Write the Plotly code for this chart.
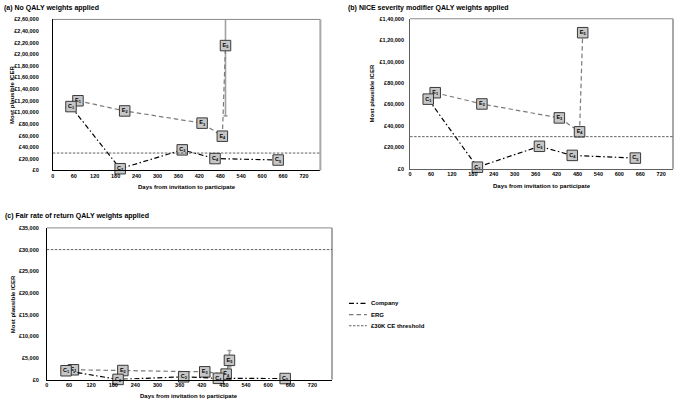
import plotly.graph_objects as go

W, H = 677, 404

# ---------------- data ----------------
company_days = [52, 193, 371, 465, 646]
erg_days = [72, 206, 428, 486, 495]
company_labels = ["C<sub>1</sub>", "C<sub>2</sub>", "C<sub>3</sub>", "C<sub>4</sub>", "C<sub>5</sub>"]
erg_labels = ["E<sub>1</sub>", "E<sub>2</sub>", "E<sub>3</sub>", "E<sub>4</sub>", "E<sub>5</sub>"]

company_a = [110000, 3000, 35500, 20500, 18000]
erg_a = [120000, 102500, 81500, 59000, 215000]
e5_err_hi_a = 85000
e5_err_lo_a = 121000

company_b = [65000, 1500, 21000, 12500, 10000]
erg_b = [71000, 60500, 47500, 34500, 127000]

company_c = [2050, 50, 650, 300, 250]
erg_c = [2270, 2100, 1800, 1270, 4450]
e5_err_hi_c = 2280
e5_err_lo_c = 1500

threshold = 30000

x_ticks = [0, 60, 120, 180, 240, 300, 360, 420, 480, 540, 600, 660, 720]
y_ticks_a = list(range(0, 260001, 20000))
y_labels_a = ["£0", "£20,000", "£40,000", "£60,000", "£80,000", "£1,00,000", "£1,20,000",
              "£1,40,000", "£1,60,000", "£1,80,000", "£2,00,000", "£2,20,000", "£2,40,000", "£2,60,000"]
y_ticks_b = list(range(0, 140001, 20000))
y_labels_b = ["£0", "£20,000", "£40,000", "£60,000", "£80,000", "£1,00,000", "£1,20,000", "£1,40,000"]
y_ticks_c = list(range(0, 35001, 5000))
y_labels_c = ["£0", "£5,000", "£10,000", "£15,000", "£20,000", "£25,000", "£30,000", "£35,000"]

titles = ["(a) No QALY weights applied", "(b) NICE severity modifier QALY weights applied",
          "(c) Fair rate of return QALY weights applied"]
legend_names = ["Company", "ERG", "£30K CE threshold"]

# ---------------- styles ----------------
FONT = "Liberation Sans Narrow, Arial Narrow, Arial, Liberation Sans, sans-serif"
MARK_FILL = "#c6c6c6"
MARK_LINE = "#3a3a3a"
COMPANY_DASH = "5px,2.5px,1.5px,2.5px"
ERG_DASH = "4.5px,3px"
THR_DASH = "2.5px,1.5px"
ERG_COLOR = "#7a7a7a"

def px_x(p):
    return p / W

def px_y(p):
    return 1 - p / H

panels = [
    dict(xa="x", ya="y", xd=(51, 319.3), yd=(16.7, 170), xmax=767, ymax=260000,
         yt=y_ticks_a, yl=y_labels_a, so=12, comp=company_a, erg=erg_a,
         err=(e5_err_hi_a, e5_err_lo_a)),
    dict(xa="x2", ya="y2", xd=(409.3, 673), yd=(16, 168.3), xmax=754, ymax=140000,
         yt=y_ticks_b, yl=y_labels_b, so=4, comp=company_b, erg=erg_b, err=None),
    dict(xa="x3", ya="y3", xd=(45, 331), yd=(228.3, 382.3), xmax=773, ymax=35000,
         yt=y_ticks_c, yl=y_labels_c, so=6, comp=company_c, erg=erg_c,
         err=(e5_err_hi_c, e5_err_lo_c)),
]

fig = go.Figure()
layout = dict(width=W, height=H, margin=dict(l=0, r=0, t=0, b=0),
              paper_bgcolor="white", plot_bgcolor="white", showlegend=False,
              font=dict(family=FONT, color="black"))
shapes = []
annotations = []

for i, p in enumerate(panels):
    suffix = "" if i == 0 else str(i + 1)
    layout["xaxis" + suffix] = dict(domain=[px_x(p["xd"][0]), px_x(p["xd"][1])], range=[0, p["xmax"]],
                                    anchor=p["ya"], tickvals=x_ticks, showgrid=False, zeroline=False,
                                    showline=True, linecolor="black" if i != 1 else "#606060",
                                    linewidth=1, ticks="",
                                    tickfont=dict(size=5.5, weight="bold", family=FONT),
                                    fixedrange=True)
    layout["yaxis" + suffix] = dict(domain=[px_y(p["yd"][1]), px_y(p["yd"][0])], range=[0, p["ymax"]],
                                    anchor=p["xa"], tickvals=p["yt"], ticktext=p["yl"], showgrid=False,
                                    zeroline=False, showline=True,
                                    linecolor="black" if i != 1 else "#606060", linewidth=1,
                                    ticks="", ticklabelstandoff=p["so"],
                                    tickfont=dict(size=5.5, weight="bold", family=FONT),
                                    fixedrange=True)

    xref_dom = p["xa"] + " domain"
    yref_dom = p["ya"] + " domain"
    shapes.append(dict(type="line", xref=xref_dom, yref=yref_dom, x0=0, x1=1, y0=1, y1=1,
                       line=dict(color="#8a8a8a", width=1)))
    shapes.append(dict(type="line", xref=xref_dom, yref=yref_dom, x0=1, x1=1, y0=0, y1=1,
                       line=dict(color="#a8a8a8", width=2)))
    shapes.append(dict(type="line", xref=xref_dom, yref=p["ya"], x0=0, x1=1,
                       y0=threshold, y1=threshold,
                       line=dict(color="#3a3a3a", width=0.8, dash=THR_DASH)))

    if p["err"] is not None:
        fig.add_trace(go.Scatter(x=[erg_days[4]], y=[p["erg"][4]], mode="markers",
                                 marker=dict(size=1, opacity=0),
                                 error_y=dict(type="data", symmetric=False, array=[p["err"][0]],
                                              arrayminus=[p["err"][1]], color="#a0a0a0",
                                              thickness=1.6, width=2),
                                 xaxis=p["xa"], yaxis=p["ya"], hoverinfo="skip"))

    fig.add_trace(go.Scatter(x=erg_days, y=p["erg"], mode="lines+markers+text", text=erg_labels,
                             textposition="middle center",
                             textfont=dict(size=5.5, family=FONT, color="black", weight="bold"),
                             line=dict(color=ERG_COLOR, width=1.2, dash=ERG_DASH),
                             marker=dict(symbol="square", size=10.5, color=MARK_FILL,
                                         line=dict(color=MARK_LINE, width=1)),
                             cliponaxis=False, name=legend_names[1],
                             xaxis=p["xa"], yaxis=p["ya"]))
    fig.add_trace(go.Scatter(x=company_days, y=p["comp"], mode="lines+markers+text",
                             text=company_labels, textposition="middle center",
                             textfont=dict(size=5.5, family=FONT, color="black", weight="bold"),
                             line=dict(color="black", width=1.2, dash=COMPANY_DASH),
                             marker=dict(symbol="square", size=10.5, color=MARK_FILL,
                                         line=dict(color=MARK_LINE, width=1)),
                             cliponaxis=False, name=legend_names[0],
                             xaxis=p["xa"], yaxis=p["ya"]))

    cx = (p["xd"][0] + p["xd"][1]) / 2
    cy = (p["yd"][0] + p["yd"][1]) / 2
    annotations.append(dict(text="Days from invitation to participate", xref="paper", yref="paper",
                            x=px_x(cx), y=px_y(p["yd"][1] + 17), showarrow=False,
                            font=dict(size=6, weight="bold", family=FONT),
                            xanchor="center", yanchor="middle"))
    ytitle_x = [10, 370.7, 10.5][i]
    annotations.append(dict(text="Most plausible ICER", xref="paper", yref="paper",
                            x=px_x(ytitle_x), y=px_y(cy), showarrow=False, textangle=-90,
                            font=dict(size=6, weight="bold", family=FONT),
                            xanchor="center", yanchor="middle"))

title_pos = [(0, 5), (345, 5), (1, 216.5)]
for t, (tx, ty) in zip(titles, title_pos):
    annotations.append(dict(text=t, xref="paper", yref="paper", x=px_x(tx), y=px_y(ty),
                            showarrow=False, xanchor="left", yanchor="middle",
                            font=dict(size=7, weight="bold", family=FONT)))

leg_styles = [("black", COMPANY_DASH, 1.2), (ERG_COLOR, ERG_DASH, 1.2), ("#3a3a3a", THR_DASH, 0.8)]
for k, (name, (col, dsh, wd)) in enumerate(zip(legend_names, leg_styles)):
    ly = 305 + 11.3 * k
    shapes.append(dict(type="line", xref="paper", yref="paper", x0=px_x(348), x1=px_x(366),
                       y0=px_y(ly), y1=px_y(ly), line=dict(color=col, width=wd, dash=dsh)))
    annotations.append(dict(text=name, xref="paper", yref="paper", x=px_x(368.5), y=px_y(ly),
                            showarrow=False, xanchor="left", yanchor="middle",
                            font=dict(size=6, weight="bold", family=FONT)))

layout["shapes"] = shapes
layout["annotations"] = annotations
fig.update_layout(**layout)
fig.write_html(
    "out.html",
    config={"displayModeBar": False, "staticPlot": True},
    post_script="document.body.style.margin='0';document.body.style.padding='0';"
                "document.body.style.overflow='hidden';",
)
